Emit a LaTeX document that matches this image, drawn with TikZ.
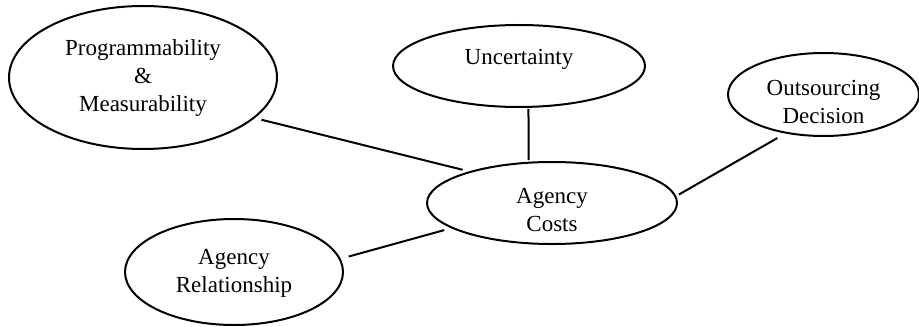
\documentclass[tikz,border=0pt]{standalone}
\usepackage{fontspec}
\setmainfont{Liberation Serif}
\usetikzlibrary{shapes.geometric}
\begin{document}
\begin{tikzpicture}[x=0.5pt,y=-0.5pt,
  font=\fontsize{11.5}{14}\selectfont,
  ell/.style={draw, ellipse, line width=1pt, inner sep=0pt, outer sep=0pt},
  conn/.style={draw, line width=1pt},
  every label/.style={align=center, inner sep=0pt}]
\useasboundingbox (0,0) rectangle (919,326);
\node[ell, minimum width=134pt, minimum height=71.5pt,
  label={[yshift=-0.5pt]center:Programmability\\\&\\Measurability}] (prog) at (143,77.5) {};
\node[ell, minimum width=126pt, minimum height=41pt,
  label={[yshift=3.4pt]center:Uncertainty}] (unc) at (519,66) {};
\node[ell, minimum width=95.5pt, minimum height=41.5pt,
  label={[yshift=-3.5pt]center:Outsourcing\\Decision}] (oc) at (823.5,94.5) {};
\node[ell, minimum width=125pt, minimum height=41pt,
  label={[yshift=-3.75pt]center:Agency\\Costs}] (ac) at (552,203) {};
\node[ell, minimum width=109pt, minimum height=53pt,
  label={[yshift=-0.75pt]center:Agency\\Relationship}] (ar) at (234,272) {};
\draw[conn, shorten <=4pt, shorten >=4.2pt] (prog.-20.9) -- (ac.159.2);
\draw[conn, shorten <=1pt, shorten >=1.3pt] (unc.-77.6) -- (ac.120.3);
\draw[conn, shorten <=2pt, shorten >=5.3pt] (ac.3.8) -- (oc.226.7);
\draw[conn, shorten <=4.7pt, shorten >=4.3pt] (ar.7.9) -- (ac.194);
\end{tikzpicture}
\end{document}
